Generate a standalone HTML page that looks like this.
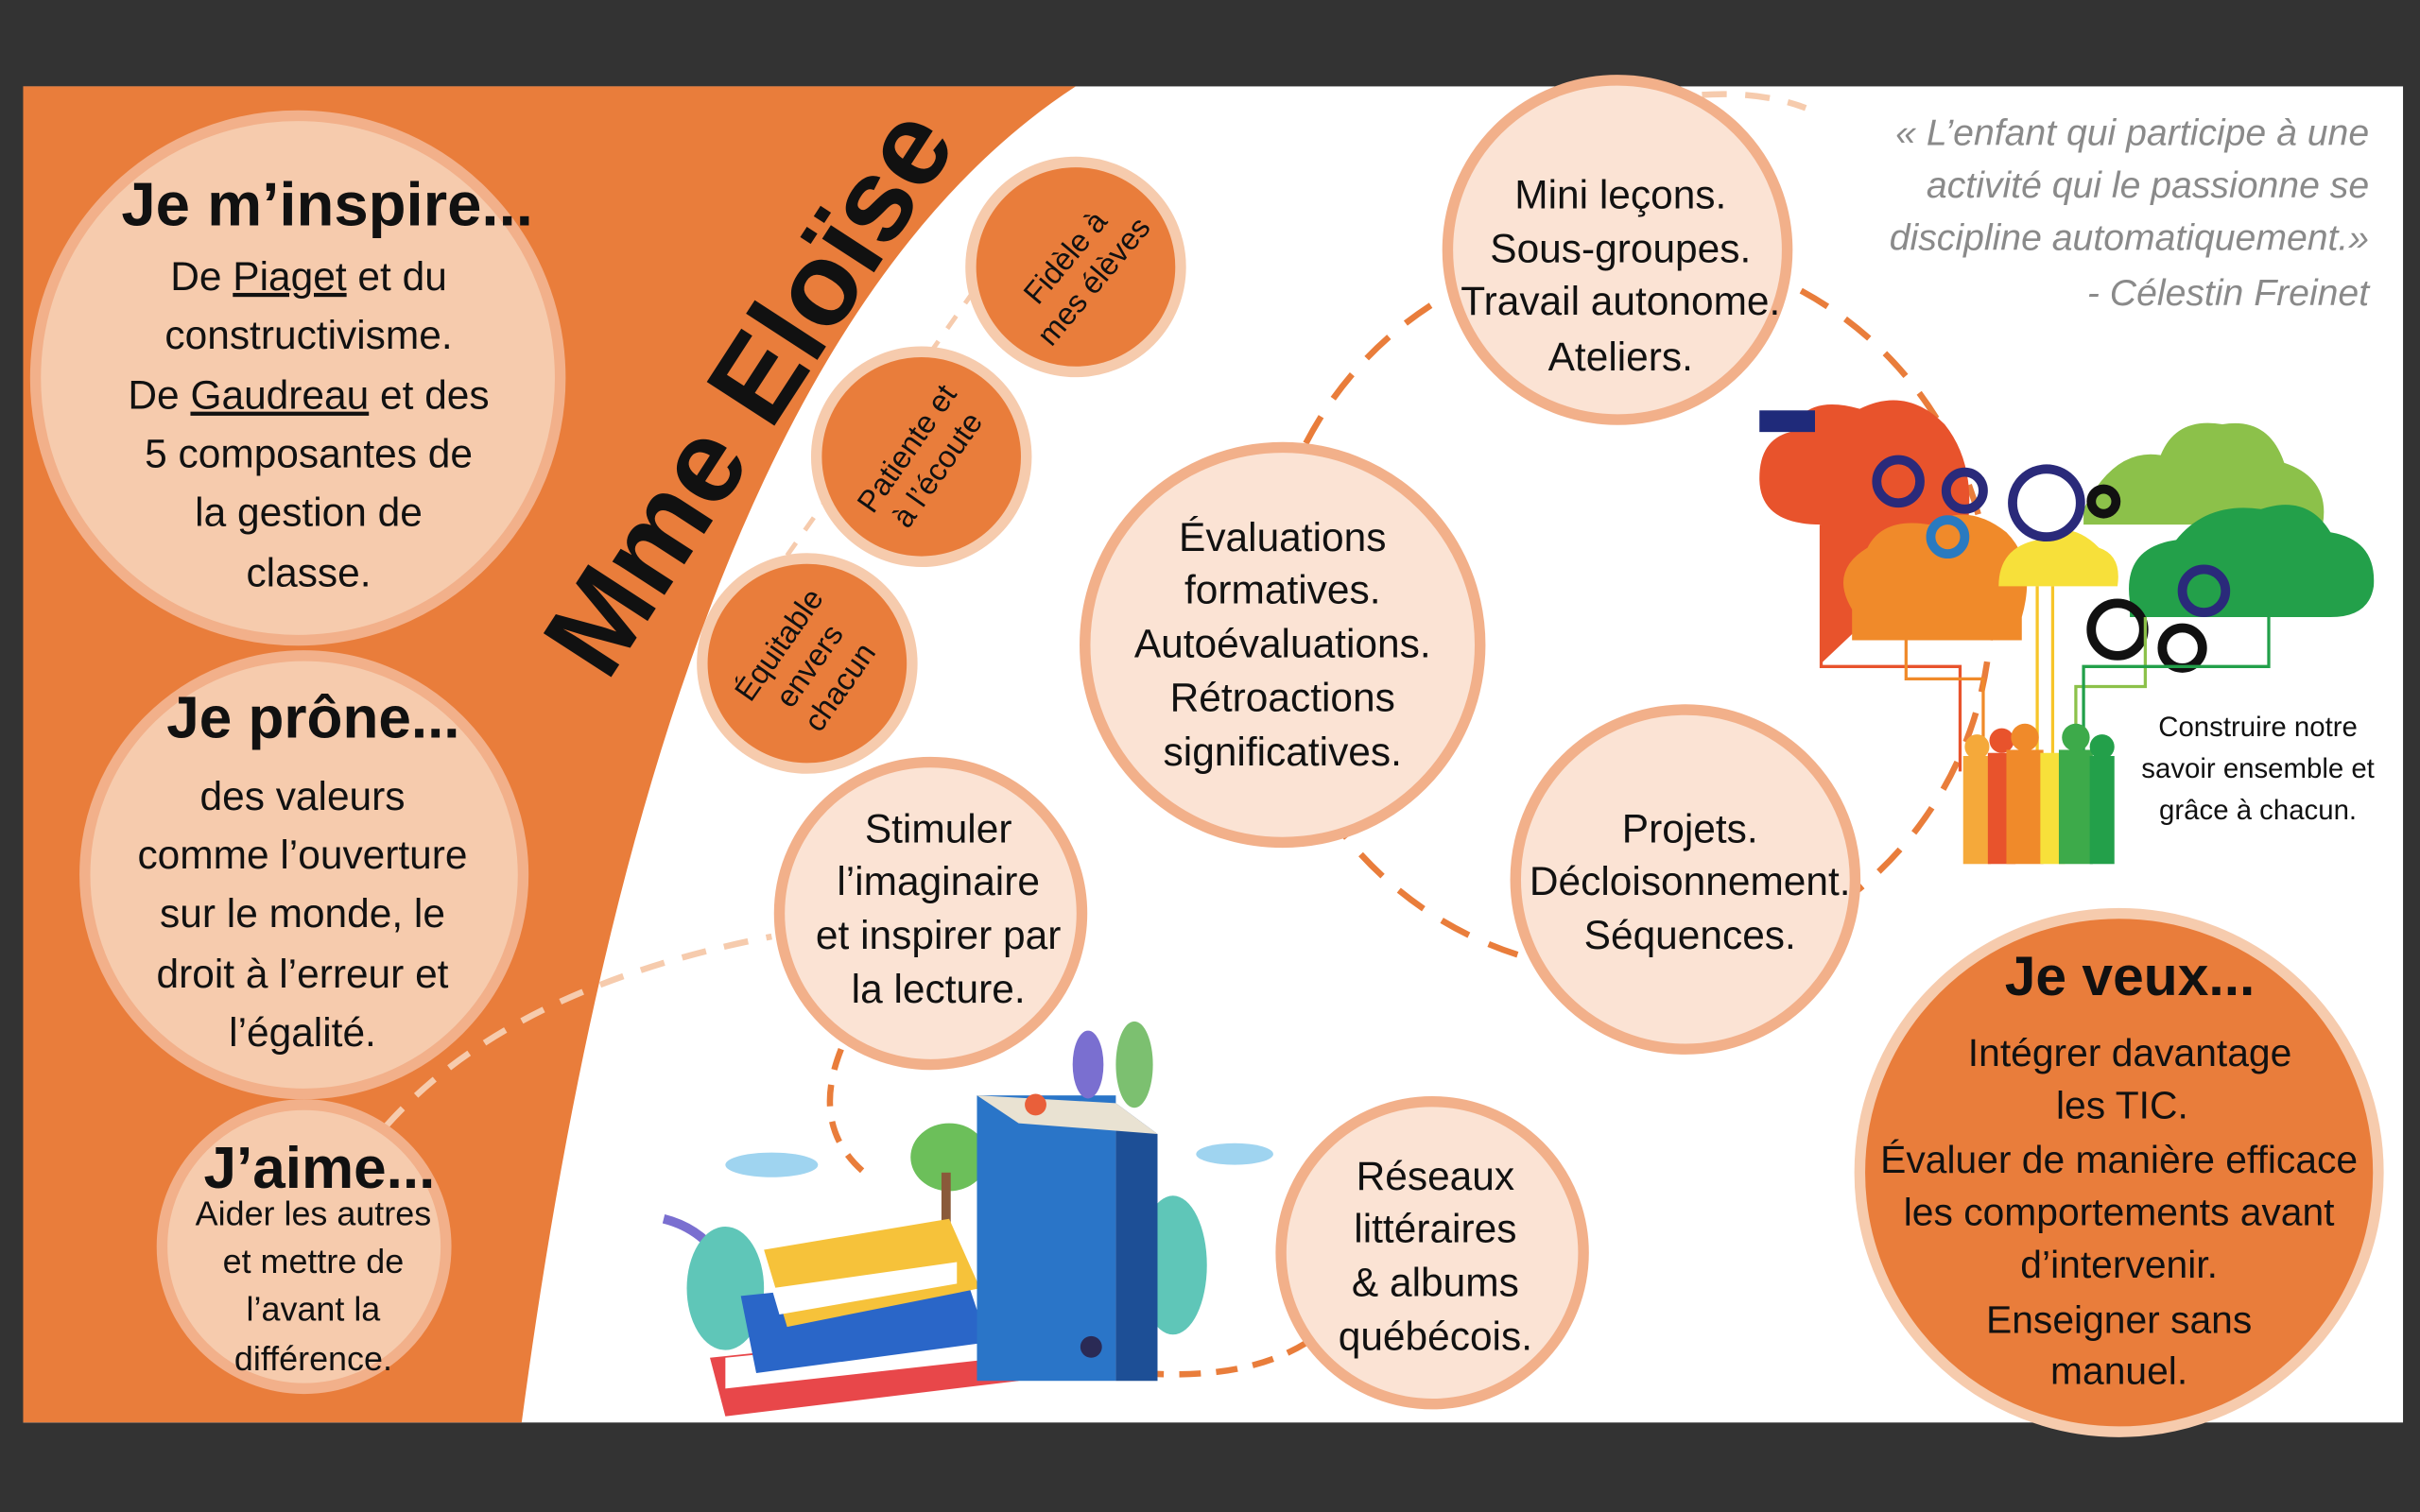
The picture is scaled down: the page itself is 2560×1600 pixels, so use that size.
<!DOCTYPE html>
<html><head><meta charset="utf-8"><style>
html,body{margin:0;padding:0;background:#333;}
svg{display:block;}
text{font-family:"Liberation Sans","DejaVu Sans",sans-serif;fill:#111;}
.b{font-size:26px;text-anchor:middle;}
.h{font-size:36px;font-weight:bold;text-anchor:middle;}
</style></head><body>
<svg width="2560" height="1600" viewBox="0 0 1568 980" preserveAspectRatio="none" xmlns="http://www.w3.org/2000/svg">
<rect x="0" y="0" width="1568" height="980" fill="#333"/>
<rect x="15" y="56" width="1542" height="866" fill="#fff"/>
<path d="M15 56 L697 56 Q430 230 338 922 L15 922 Z" fill="#E97D3B"/>
<circle cx="1055" cy="395" r="235" fill="none" stroke="#E97D3B" stroke-width="4" stroke-dasharray="20 14"/>
<path d="M1075 65 Q1130 55 1170 70" fill="none" stroke="#F6CBAD" stroke-width="4" stroke-dasharray="16 12"/>
<path d="M250 730 Q330 640 500 607" fill="none" stroke="#F6CBAD" stroke-width="4" stroke-dasharray="16 12"/>
<path d="M545 680 Q525 730 560 760" fill="none" stroke="#E97D3B" stroke-width="4" stroke-dasharray="14 10"/>
<path d="M740 890 Q810 895 850 868" fill="none" stroke="#E97D3B" stroke-width="4" stroke-dasharray="14 10"/>
<path d="M510 360 L630 190" fill="none" stroke="#F6CBAD" stroke-width="3" stroke-dasharray="10 10"/>
<g fill="#F6CBAD" stroke="#F2B08A" stroke-width="7">
<circle cx="193" cy="245" r="170"/>
<circle cx="197" cy="567" r="142"/>
<circle cx="197" cy="808" r="92"/>
</g>
<g fill="#E97D3B" stroke="#F6CBAD" stroke-width="7">
<circle cx="697" cy="173" r="68"/>
<circle cx="597" cy="296" r="68"/>
<circle cx="523" cy="430" r="68"/>
<circle cx="1373" cy="760" r="168"/>
</g>
<g fill="#FBE3D4" stroke="#F2B08A" stroke-width="7">
<circle cx="1048" cy="162" r="110"/>
<circle cx="831" cy="418" r="128"/>
<circle cx="1092" cy="570" r="110"/>
<circle cx="603" cy="592" r="98"/>
<circle cx="928" cy="812" r="98"/>
</g>
<text x="0" y="0" transform="translate(492 258) rotate(-57)" style="font-size:76px;font-weight:bold;text-anchor:middle" dy="18">Mme Eloïse</text>
<text class="h" x="212" y="146" style="font-size:40px">Je m’inspire...</text>
<text class="b" x="200" y="188">De <tspan text-decoration="underline">Piaget</tspan> et du</text>
<text class="b" x="200" y="226">constructivisme.</text>
<text class="b" x="200" y="265">De <tspan text-decoration="underline">Gaudreau</tspan> et des</text>
<text class="b" x="200" y="303">5 composantes de</text>
<text class="b" x="200" y="341">la gestion de</text>
<text class="b" x="200" y="380">classe.</text>
<text class="h" x="203" y="478" style="font-size:38px">Je prône...</text>
<text class="b" x="196" y="525">des valeurs</text>
<text class="b" x="196" y="563">comme l’ouverture</text>
<text class="b" x="196" y="601">sur le monde, le</text>
<text class="b" x="196" y="640">droit à l’erreur et</text>
<text class="b" x="196" y="678">l’égalité.</text>
<text class="h" x="207" y="770" style="font-size:38px">J’aime...</text>
<text class="b" x="203" y="794" style="font-size:22px">Aider les autres</text>
<text class="b" x="203" y="825" style="font-size:22px">et mettre de</text>
<text class="b" x="203" y="856" style="font-size:22px">l’avant la</text>
<text class="b" x="203" y="888" style="font-size:22px">différence.</text>
<g style="font-size:20px;text-anchor:middle">
<text transform="translate(700 175) rotate(-50)"><tspan x="0" y="-6">Fidèle à</tspan><tspan x="0" y="18">mes élèves</tspan></text>
<text transform="translate(598 298) rotate(-55)"><tspan x="0" y="-6">Patiente et</tspan><tspan x="0" y="18">à l’écoute</tspan></text>
<text transform="translate(525 432) rotate(-55)"><tspan x="0" y="-18">Équitable</tspan><tspan x="0" y="6">envers</tspan><tspan x="0" y="30">chacun</tspan></text>
</g>
<text class="b" x="1050" y="135">Mini leçons.</text>
<text class="b" x="1050" y="170">Sous-groupes.</text>
<text class="b" x="1050" y="204">Travail autonome.</text>
<text class="b" x="1050" y="240">Ateliers.</text>
<text class="b" x="831" y="357">Évaluations</text>
<text class="b" x="831" y="391">formatives.</text>
<text class="b" x="831" y="426">Autoévaluations.</text>
<text class="b" x="831" y="461">Rétroactions</text>
<text class="b" x="831" y="496">significatives.</text>
<text class="b" x="1095" y="546">Projets.</text>
<text class="b" x="1095" y="580">Décloisonnement.</text>
<text class="b" x="1095" y="615">Séquences.</text>
<text class="b" x="608" y="546">Stimuler</text>
<text class="b" x="608" y="580">l’imaginaire</text>
<text class="b" x="608" y="615">et inspirer par</text>
<text class="b" x="608" y="650">la lecture.</text>
<text class="b" x="930" y="771">Réseaux</text>
<text class="b" x="930" y="805">littéraires</text>
<text class="b" x="930" y="840">&amp; albums</text>
<text class="b" x="930" y="875">québécois.</text>
<text class="h" x="1380" y="645" style="font-size:36px">Je veux...</text>
<g class="b" style="font-size:25px;text-anchor:middle">
<text x="1380" y="691">Intégrer davantage</text>
<text x="1375" y="725">les TIC.</text>
<text x="1373" y="760">Évaluer de manière efficace</text>
<text x="1373" y="794">les comportements avant</text>
<text x="1373" y="828">d’intervenir.</text>
<text x="1373" y="864">Enseigner sans</text>
<text x="1373" y="897">manuel.</text>
</g>
<g style="font-size:24px;font-style:italic;text-anchor:end">
<text x="1535" y="94" style="fill:#8a8a8a">« L’enfant qui participe à une</text>
<text x="1535" y="128" style="fill:#8a8a8a">activité qui le passionne se</text>
<text x="1535" y="162" style="fill:#8a8a8a">discipline automatiquement.»</text>
<text x="1535" y="198" style="fill:#8a8a8a">- Célestin Freinet</text>
</g>
<g>
<path d="M1180 430 L1180 340 Q1140 340 1140 310 Q1140 285 1160 280 Q1170 255 1205 265 Q1235 250 1260 275 Q1280 300 1275 340 Z" fill="#E8532C"/>
<path d="M1200 395 Q1185 370 1210 355 Q1220 335 1250 340 Q1275 325 1300 345 Q1320 365 1310 400 L1310 415 L1200 415 Z" fill="#F08A2A"/>
<path d="M1295 380 Q1295 355 1320 350 Q1340 335 1360 355 Q1375 360 1372 380 Z" fill="#F7E03A"/>
<path d="M1350 330 Q1370 290 1400 295 Q1410 270 1440 275 Q1470 270 1480 300 Q1510 310 1505 340 L1350 340 Z" fill="#8CC14A"/>
<path d="M1380 390 Q1375 355 1410 350 Q1430 325 1465 330 Q1495 320 1510 345 Q1540 350 1538 380 Q1535 400 1510 400 L1380 400 Z" fill="#23A04A"/>
<g fill="none" stroke="#2a2a7a" stroke-width="6">
<circle cx="1230" cy="312" r="14"/><circle cx="1273" cy="318" r="12"/><circle cx="1326" cy="326" r="22"/><circle cx="1262" cy="348" r="11" stroke="#2a7ac0"/><circle cx="1428" cy="383" r="14"/>
</g>
<g fill="none" stroke="#111" stroke-width="6"><circle cx="1372" cy="408" r="17"/><circle cx="1414" cy="420" r="13"/><circle cx="1363" cy="325" r="8"/></g>
<rect x="1140" y="266" width="36" height="14" fill="#1f2a7a"/>
<g fill="none" stroke-width="2">
<path d="M1180 340 V432 H1270 V500" stroke="#E8532C"/>
<path d="M1235 415 V440 H1285 V500" stroke="#F08A2A"/>
<path d="M1320 380 V500 M1330 380 V500" stroke="#F7C52A"/>
<path d="M1390 400 V445 H1345 V500" stroke="#8CC14A"/>
<path d="M1470 400 V432 H1350 V500" stroke="#23A04A"/>
</g>
<g>
<rect x="1272" y="490" width="18" height="70" fill="#F5A93A"/><circle cx="1281" cy="484" r="8" fill="#F5A93A"/>
<rect x="1288" y="488" width="18" height="72" fill="#E8532C"/><circle cx="1297" cy="480" r="8" fill="#E8532C"/>
<rect x="1300" y="486" width="24" height="74" fill="#F08A2A"/><circle cx="1312" cy="478" r="9" fill="#F08A2A"/>
<rect x="1322" y="488" width="16" height="72" fill="#F7E03A"/>
<rect x="1334" y="486" width="22" height="74" fill="#3DAA4A"/><circle cx="1345" cy="478" r="9" fill="#3DAA4A"/>
<rect x="1354" y="490" width="16" height="70" fill="#23A04A"/><circle cx="1362" cy="484" r="8" fill="#23A04A"/>
</g>
</g>
<g style="font-size:18px;text-anchor:middle">
<text x="1463" y="477">Construire notre</text>
<text x="1463" y="504">savoir ensemble et</text>
<text x="1463" y="531">grâce à chacun.</text>
</g>
<g>
<ellipse cx="500" cy="755" rx="30" ry="8" fill="#9fd4f0"/>
<ellipse cx="800" cy="748" rx="25" ry="7" fill="#9fd4f0"/>
<path d="M430 790 Q470 800 480 850" stroke="#7a6fd0" stroke-width="6" fill="none"/>
<ellipse cx="470" cy="835" rx="25" ry="40" fill="#5fc6b8"/>
<ellipse cx="760" cy="820" rx="22" ry="45" fill="#5fc6b8"/>
<ellipse cx="615" cy="750" rx="25" ry="22" fill="#6cbf5a"/>
<rect x="610" y="760" width="6" height="50" fill="#8a5a3a"/>
<polygon points="460,880 650,860 660,895 470,918" fill="#e8474a"/>
<polygon points="470,880 650,862 650,880 470,900" fill="#fff"/>
<polygon points="480,840 625,825 640,870 490,890" fill="#2a66c8"/>
<polygon points="495,810 615,790 635,835 510,860" fill="#f6c23a"/>
<polygon points="500,835 620,818 620,832 505,852" fill="#fff"/>
<rect x="633" y="710" width="90" height="185" fill="#2a75c8"/>
<polygon points="723,715 750,735 750,895 723,895" fill="#1d4f96"/>
<polygon points="633,710 723,715 750,735 660,728" fill="#e9e2d2"/>
<ellipse cx="735" cy="690" rx="12" ry="28" fill="#7cc070"/>
<ellipse cx="705" cy="690" rx="10" ry="22" fill="#7a6fd0"/>
<circle cx="671" cy="716" r="7" fill="#e95f3a"/>
<circle cx="707" cy="873" r="7" fill="#2a2a55"/>
</g>
</svg>
</body></html>
